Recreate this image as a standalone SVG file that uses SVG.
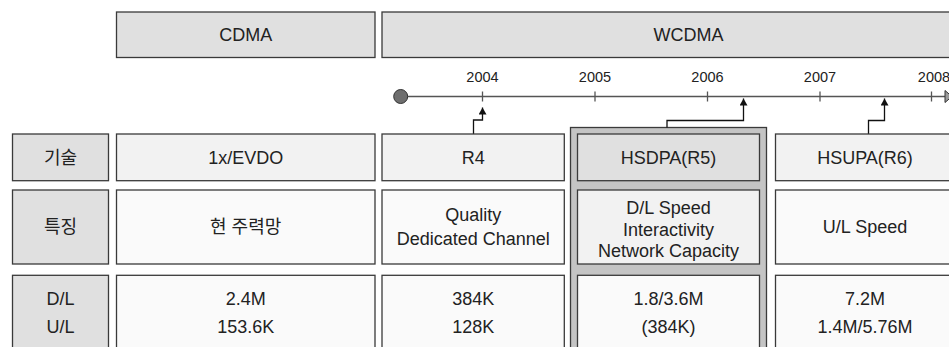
<svg xmlns="http://www.w3.org/2000/svg" width="949" height="347" viewBox="0 0 949 347">
<style>
.hdr{fill:#e0e0e0;stroke:#3a3a3a;stroke-width:1.3}
.lab{fill:#e0e0e0;stroke:#3a3a3a;stroke-width:1.3}
.c1{fill:#f2f2f2;stroke:#3a3a3a;stroke-width:1.3}
.c2{fill:#fafafa;stroke:#3a3a3a;stroke-width:1.3}
.hi{fill:#e0e0e0;stroke:#3a3a3a;stroke-width:1.3}
.outer{fill:#c4c4c4;stroke:#3a3a3a;stroke-width:1.3}
text{font-family:"Liberation Sans","Noto Sans CJK KR",sans-serif;fill:#222;text-anchor:middle}
.t{font-size:18px}
.th{font-size:18px}
.yr{font-size:14.5px}
.tl{stroke:#555;stroke-width:1.3;fill:none}
.con{stroke:#111;stroke-width:1.3;fill:none;marker-end:url(#ah)}
</style>
<defs>
<marker id="ah" markerWidth="8" markerHeight="8" refX="7" refY="4" orient="auto" markerUnits="userSpaceOnUse">
<path d="M0,0 L7,4 L0,8 Z" fill="#111"/>
</marker>
</defs>
<rect width="949" height="347" fill="#ffffff"/>

<g id="hdr-cdma"><rect class="hdr" x="116.5" y="12" width="258.5" height="45.5"/><text class="th" x="245.7" y="41">CDMA</text></g>
<g id="hdr-wcdma"><rect class="hdr" x="382" y="12" width="614" height="45.5"/><text class="th" x="688.5" y="41">WCDMA</text></g>

<g id="timeline">
<line class="tl" x1="401" y1="96.5" x2="945" y2="96.5"/>
<circle cx="400.7" cy="96.5" r="7" fill="#6e6e6e" stroke="#333" stroke-width="1"/>
<path d="M945,90.5 L952,96.5 L945,102.5 Z" fill="#9a9a9a" stroke="#333" stroke-width="1"/>
<line class="tl" x1="482.5" y1="91.5" x2="482.5" y2="101.5"/>
<line class="tl" x1="595" y1="91.5" x2="595" y2="101.5"/>
<line class="tl" x1="707.5" y1="91.5" x2="707.5" y2="101.5"/>
<line class="tl" x1="820" y1="91.5" x2="820" y2="101.5"/>
<line class="tl" x1="931.5" y1="91.5" x2="931.5" y2="101.5"/>
<text class="yr" x="482.5" y="82">2004</text>
<text class="yr" x="595" y="82">2005</text>
<text class="yr" x="707.5" y="82">2006</text>
<text class="yr" x="820" y="82">2007</text>
<text class="yr" x="934" y="82">2008</text>
</g>

<g id="hsdpa-frame"><rect class="outer" x="570.5" y="127.5" width="196" height="240"/></g>

<g id="connectors">
<path class="con" d="M473.5,134 V120 H482.5 V107.5"/>
<path class="con" d="M667,127.5 V120.5 H743.5 V98.5"/>
<path class="con" d="M868.5,134 V120.5 H884.5 V98.5"/>
</g>

<g id="lab-tech"><rect class="lab" x="12.5" y="134" width="96" height="46.7"/><text class="t" x="60.5" y="163.5">기술</text></g>
<g id="lab-feat"><rect class="lab" x="12.5" y="190" width="96" height="74"/><text class="t" x="60.5" y="233">특징</text></g>
<g id="lab-speed"><rect class="lab" x="12.5" y="275.3" width="96" height="90"/><text class="t" x="60.5" y="305">D/L</text><text class="t" x="60.5" y="333">U/L</text></g>

<g id="cdma-tech"><rect class="c1" x="116.5" y="134" width="258.5" height="46.7"/><text class="t" x="245.7" y="163.5">1x/EVDO</text></g>
<g id="cdma-feat"><rect class="c2" x="116.5" y="190" width="258.5" height="74"/><text class="t" x="245.7" y="233">현 주력망</text></g>
<g id="cdma-speed"><rect class="c2" x="116.5" y="275.3" width="258.5" height="90"/><text class="t" x="245.7" y="305">2.4M</text><text class="t" x="245.7" y="333">153.6K</text></g>

<g id="r4-tech"><rect class="c1" x="382" y="134" width="182.3" height="46.7"/><text class="t" x="473.2" y="163.5">R4</text></g>
<g id="r4-feat"><rect class="c2" x="382" y="190" width="182.3" height="74"/><text class="t" x="473.2" y="221">Quality</text><text class="t" x="473.2" y="245">Dedicated Channel</text></g>
<g id="r4-speed"><rect class="c2" x="382" y="275.3" width="182.3" height="90"/><text class="t" x="473.2" y="305">384K</text><text class="t" x="473.2" y="333">128K</text></g>

<g id="hsdpa-tech"><rect class="hi" x="577.5" y="134" width="182" height="46.7"/><text class="t" x="668.5" y="163.5">HSDPA(R5)</text></g>
<g id="hsdpa-feat"><rect class="c1" x="577.5" y="190" width="182" height="74"/><text class="t" x="668.5" y="213.5">D/L Speed</text><text class="t" x="668.5" y="235.5">Interactivity</text><text class="t" x="668.5" y="257">Network Capacity</text></g>
<g id="hsdpa-speed"><rect class="c2" x="577.5" y="275.3" width="182" height="90"/><text class="t" x="668.5" y="305">1.8/3.6M</text><text class="t" x="668.5" y="333">(384K)</text></g>

<g id="hsupa-tech"><rect class="c1" x="775.5" y="134" width="182" height="46.7"/><text class="t" x="865" y="163.5">HSUPA(R6)</text></g>
<g id="hsupa-feat"><rect class="c2" x="775.5" y="190" width="182" height="74"/><text class="t" x="865" y="233">U/L Speed</text></g>
<g id="hsupa-speed"><rect class="c2" x="775.5" y="275.3" width="182" height="90"/><text class="t" x="865" y="305">7.2M</text><text class="t" x="865" y="333">1.4M/5.76M</text></g>
</svg>
